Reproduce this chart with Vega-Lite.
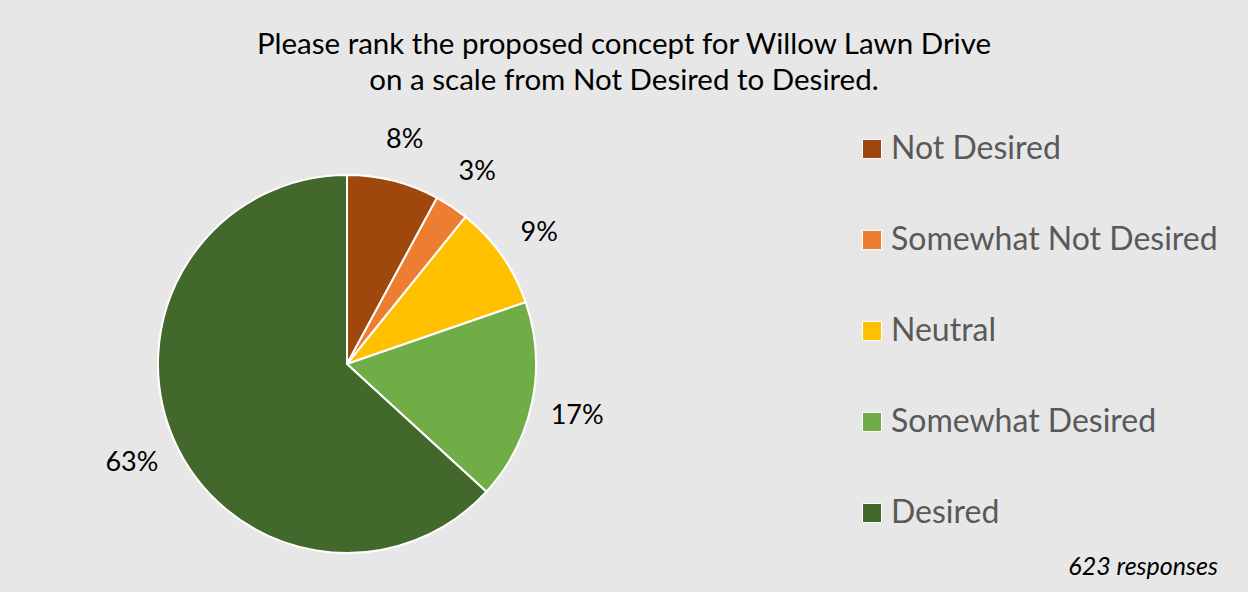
{
  "$schema": "https://vega.github.io/schema/vega-lite/v6.json",
  "autosize": "none",
  "width": 380,
  "height": 380,
  "padding": {"left": 157, "top": 174, "right": 711, "bottom": 38},
  "background": "#e7e7e7",
  "title": {
    "text": ["Please rank the proposed concept for Willow Lawn Drive", "on a scale from Not Desired to Desired."],
    "anchor": "middle",
    "frame": "group",
    "dx": 277,
    "font": "Lato",
    "fontSize": 29.5,
    "fontWeight": "normal",
    "color": "#000000",
    "lineHeight": 36,
    "offset": 30
  },
  "data": {
    "values": [
      {"rank": 1, "category": "Not Desired", "share": 0.079},
      {"rank": 2, "category": "Somewhat Not Desired", "share": 0.029},
      {"rank": 3, "category": "Neutral", "share": 0.089},
      {"rank": 4, "category": "Somewhat Desired", "share": 0.171},
      {"rank": 5, "category": "Desired", "share": 0.632}
    ]
  },
  "encoding": {
    "theta": {"field": "share", "type": "quantitative", "stack": true},
    "order": {"field": "rank", "type": "quantitative"}
  },
  "layer": [
    {
      "mark": {"type": "arc", "radius": 189, "stroke": "#ffffff", "strokeWidth": 2},
      "encoding": {
        "color": {
          "field": "category",
          "type": "nominal",
          "scale": {
            "domain": ["Not Desired", "Somewhat Not Desired", "Neutral", "Somewhat Desired", "Desired"],
            "range": ["#9e480e", "#ed7d31", "#ffc000", "#70ad47", "#43682b"]
          },
          "legend": {
            "orient": "none",
            "legendX": 699,
            "legendY": -41,
            "title": "623 responses",
            "titleOrient": "bottom",
            "titleAnchor": "end",
            "titleFont": "Lato",
            "titleFontSize": 25,
            "titleFontStyle": "italic",
            "titleFontWeight": "normal",
            "titleColor": "#000000",
            "titlePadding": 26,
            "symbolType": "square",
            "symbolSize": 361,
            "symbolStrokeColor": "#ffffff",
            "symbolStrokeWidth": 1,
            "symbolOpacity": 1,
            "labelFont": "Lato",
            "labelFontSize": 32,
            "labelColor": "#595959",
            "labelOffset": 3,
            "labelLimit": 500,
            "rowPadding": 59
          }
        }
      }
    },
    {
      "mark": {"type": "text", "radius": 235, "dy": 4, "font": "Lato", "fontSize": 27, "color": "#000000"},
      "encoding": {
        "text": {"field": "share", "type": "quantitative", "format": ".0%"}
      }
    }
  ]
}
